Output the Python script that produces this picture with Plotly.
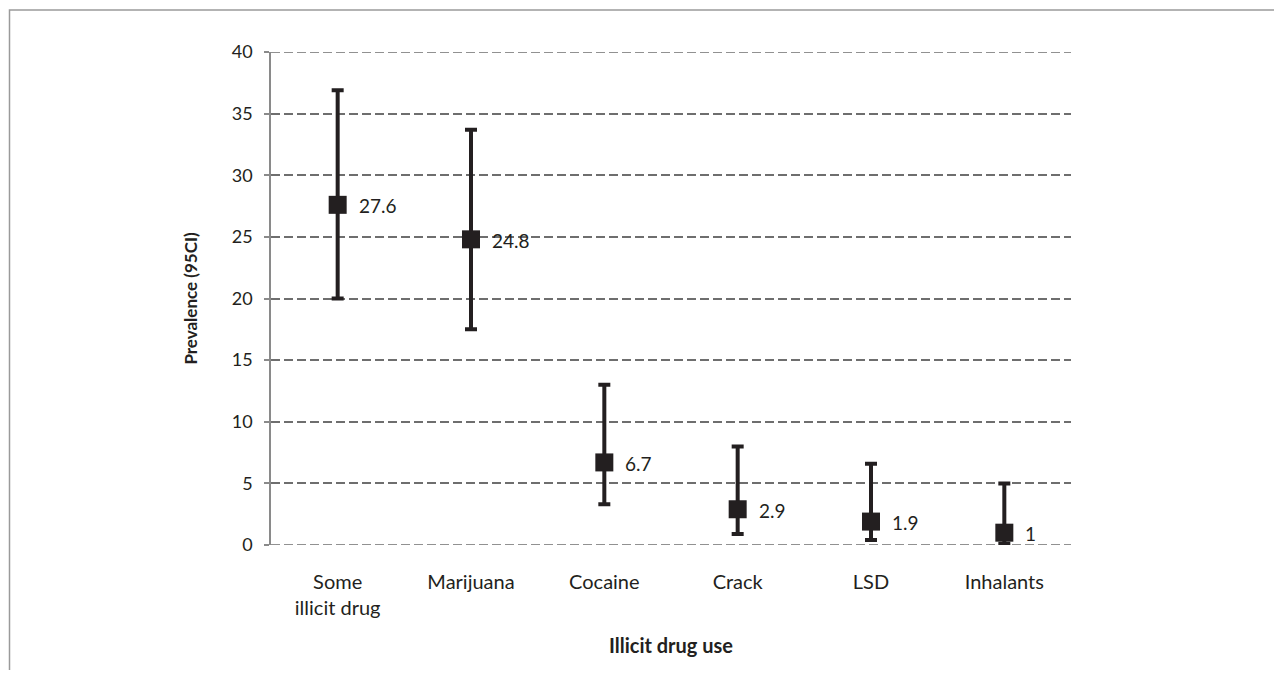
import plotly.graph_objects as go

categories = ["Some<br>illicit drug", "Marijuana", "Cocaine", "Crack", "LSD", "Inhalants"]
prevalence = [27.6, 24.8, 6.7, 2.9, 1.9, 1.0]
ci_upper = [36.9, 33.7, 13.0, 8.0, 6.6, 5.0]
ci_lower = [20.0, 17.5, 3.3, 0.9, 0.4, 0.1]
labels = ["27.6", "24.8", "6.7", "2.9", "1.9", "1"]
y_ticks = [0, 5, 10, 15, 20, 25, 30, 35, 40]

# page has an 8px body margin
W, H = 1266, 662
L, T = 263, 43.5
R = W - 1063
B = H - 537.5
pw, ph = W - L - R, H - T - B

dark = "#231f20"
grid_col = "#6e6e6e"
font_family = "Lato, 'Open Sans', sans-serif"

fig = go.Figure()
fig.add_trace(go.Scatter(
    x=categories, y=prevalence, mode="markers",
    marker=dict(symbol="square", size=18, color=dark),
    error_y=dict(type="data", symmetric=False,
                 array=[u - p for u, p in zip(ci_upper, prevalence)],
                 arrayminus=[p - l for p, l in zip(prevalence, ci_lower)],
                 color=dark, thickness=4, width=6),
    showlegend=False, hoverinfo="skip",
))

for c, p, t in zip(categories, prevalence, labels):
    fig.add_annotation(x=c, y=p, text=t, showarrow=False, xanchor="left",
                       yanchor="middle", xshift=19, yshift=-1,
                       font=dict(family=font_family, size=19, color=dark))

# dashed gridlines at the range ends (plotly omits them at the axis edges)
for yv in (y_ticks[0], y_ticks[-1]):
    fig.add_shape(type="line", xref="paper", yref="y", x0=0, x1=1, y0=yv, y1=yv,
                  line=dict(color=grid_col, width=1.5, dash="9px,4px"), layer="below")

# outer frame (only top and left visible in the picture)
fig.add_shape(type="rect", xref="paper", yref="paper",
              x0=(1.5 - L) / pw, x1=(W + 20 - L) / pw,
              y0=(H - B - (H + 20)) / ph, y1=(H - B - 1.5) / ph,
              line=dict(color="#9a9a9a", width=1.5), fillcolor="rgba(0,0,0,0)", layer="below")

fig.update_layout(
    width=W, height=H,
    margin=dict(l=L, r=R, t=T, b=B, autoexpand=False),
    paper_bgcolor="white", plot_bgcolor="white",
    font=dict(family=font_family, color=dark, size=19),
    xaxis=dict(
        type="category", range=[-0.5, 5.5], showgrid=False, zeroline=False,
        showline=False, ticks="", tickfont=dict(size=20, color=dark),
        ticklabelstandoff=23,
        title=dict(text="<b>Illicit drug use</b>", font=dict(size=20, color=dark), standoff=20),
    ),
    yaxis=dict(
        range=[0, 40], tickvals=y_ticks, showgrid=True, gridcolor=grid_col,
        gridwidth=1.5, griddash="9px,4px", zeroline=False,
        showline=True, linecolor="#8a8a8a", linewidth=1.5,
        ticks="outside", ticklen=5, tickcolor="#8a8a8a", tickwidth=1.5,
        tickfont=dict(size=18, color=dark), ticklabelstandoff=8,
        title=dict(text="<b>Prevalence (95CI)</b>", font=dict(size=17, color=dark), standoff=30),
    ),
)

fig.write_html("out.html")
